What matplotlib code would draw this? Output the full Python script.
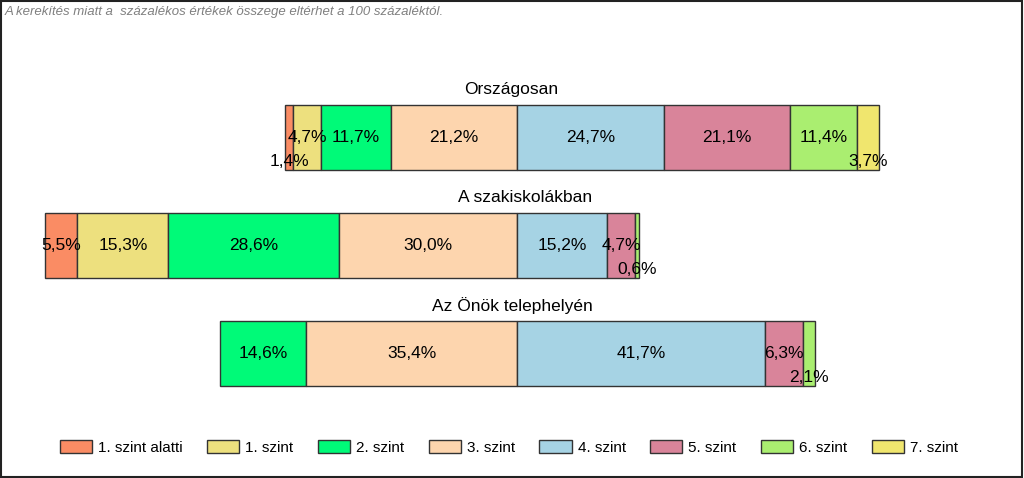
import numpy as np
import matplotlib
matplotlib.use("Agg")
import matplotlib.pyplot as plt
from matplotlib.patches import Rectangle

plt.rcParams['font.family'] = ['Liberation Sans', 'DejaVu Sans']

# Data
groups = ["Országosan", "A szakiskolákban", "Az Önök telephelyén"]
levels = ["1. szint alatti", "1. szint", "2. szint", "3. szint",
          "4. szint", "5. szint", "6. szint", "7. szint"]
orszagos = [1.4, 4.7, 11.7, 21.2, 24.7, 21.1, 11.4, 3.7]
szakiskola = [5.5, 15.3, 28.6, 30.0, 15.2, 4.7, 0.6, 0.0]
telephely = [0.0, 0.0, 14.6, 35.4, 41.7, 6.3, 2.1, 0.0]
colors = ["#FA8C64", "#EDE07E", "#00FA78", "#FDD5AE",
          "#A6D3E4", "#D9849A", "#AAEE70", "#F0E66E"]

# labels that got pushed below the bar in the original (group, level)
low_labels = {(0, 0), (0, 7), (1, 6), (2, 6)}
title_dx = [-1.0, 1.4, -0.8]   # group titles sit roughly over the 0 line

values = [orszagos, szakiskola, telephely]

fig = plt.figure(figsize=(10.24, 4.78), dpi=100)
ax = fig.add_axes([0, 0, 1, 1])
# center line (3./4. szint boundary) at x=517px, ~5.95 px per percent
ax.set_xlim(-517 / 5.95, (1024 - 517) / 5.95)
ax.set_ylim(3.153, -1.273)
ax.axis("off")

bar_h = 0.61
for gi, vals in enumerate(values):
    vals = np.array(vals)
    left = -vals[:4].sum()
    for li, v in enumerate(vals):
        if v > 0:
            ax.barh(gi, v, left=left, height=bar_h, color=colors[li],
                    edgecolor="#333333", linewidth=1)
            txt = ("%.1f%%" % v).replace(".", ",")
            dy = 0.22 if (gi, li) in low_labels else 0
            ax.text(left + v / 2, gi + dy, txt, ha="center", va="center",
                    fontsize=12.5, color="black")
        left += v
    ax.text(title_dx[gi], gi - 0.44, groups[gi], ha="center", va="center", fontsize=12.5)

fig.text(0.005, 0.975, "A kerekítés miatt a  százalékos értékek összege eltérhet a 100 százaléktól.",
         ha="left", va="center", fontsize=9.5, style="italic", color="#808080")

handles = [Rectangle((0, 0), 1, 1, facecolor=c, edgecolor="#333333", linewidth=1)
           for c in colors]
fig.legend(handles, levels, loc="center", bbox_to_anchor=(0.497, 0.064), ncol=8,
           frameon=False, fontsize=11, handlelength=2.1, handleheight=0.9,
           handletextpad=0.4, columnspacing=1.6)

# outer frame
fig.patches.append(Rectangle((0.001, 0.002), 0.997, 0.996, transform=fig.transFigure,
                             fill=False, edgecolor="#222222", linewidth=1.5))

plt.savefig("out.png", dpi=100)
